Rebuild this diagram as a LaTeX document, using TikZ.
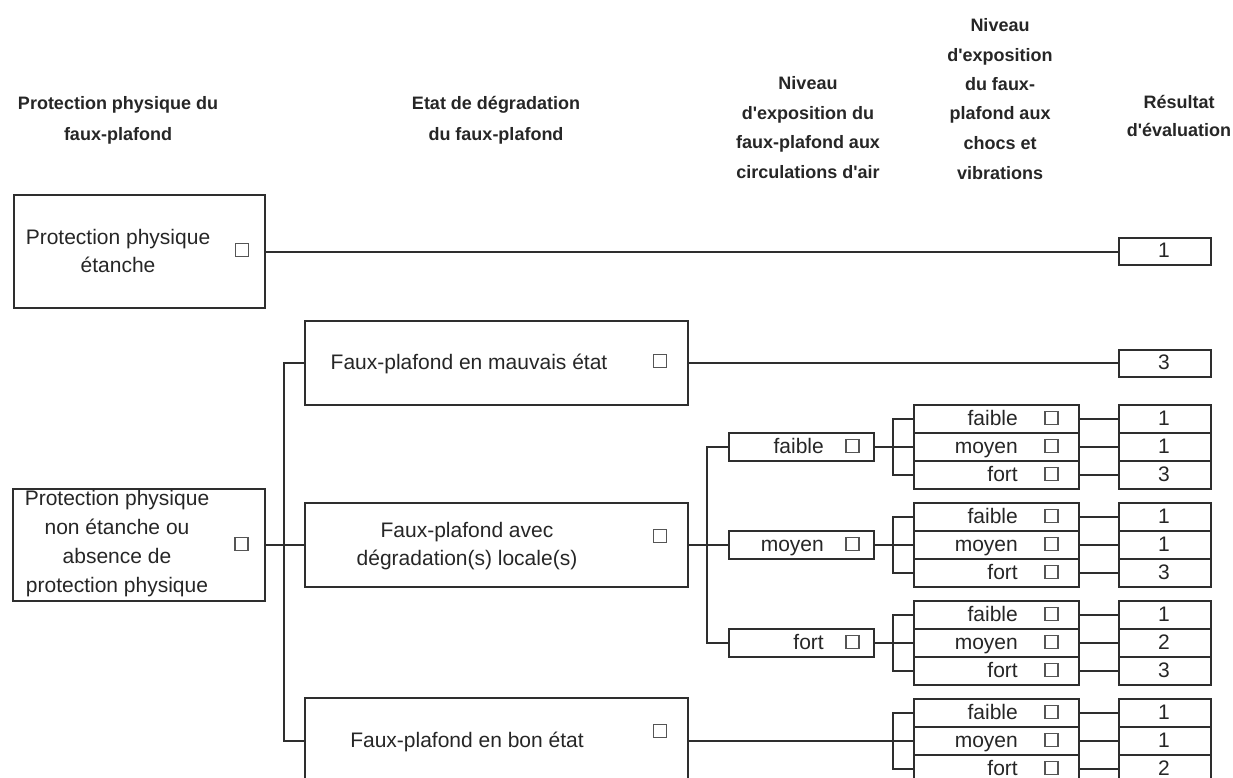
\documentclass[tikz,border=0pt]{standalone}
\usepackage{fontspec}
\setmainfont{Liberation Sans}
\definecolor{ln}{HTML}{2E2E2E}
\definecolor{ck}{HTML}{555555}
\begin{document}
\begin{tikzpicture}[x=1pt,y=-1pt,
  box/.style={draw=ln, line width=2.4pt, anchor=north west, inner sep=0pt},
  chk/.style={draw=ck, line width=1.4pt, minimum size=13pt, inner sep=0pt},
  txt/.style={inner sep=0pt, text=black!85, font=\fontsize{21}{28}\selectfont, align=center, anchor=base},
  hdr/.style={inner sep=0pt, text=black!85, font=\fontsize{18}{29.5}\selectfont\bfseries, align=center, anchor=base},
  conn/.style={draw=ln, line width=2.4pt}]
\useasboundingbox (0,0) rectangle (1233,778);
\clip (0,0) rectangle (1233,778);

% headers (anchor = baseline of the last line)
\node[hdr, font=\fontsize{18}{31}\selectfont\bfseries] (h1) at (118,141) {Protection physique du\\faux-plafond};
\node[hdr, font=\fontsize{18}{31}\selectfont\bfseries] (h2) at (496,141) {Etat de dégradation\\du faux-plafond};
\node[hdr] (h3) at (808,178.5) {Niveau\\d\textquotesingle exposition du\\faux-plafond aux\\circulations d\textquotesingle air};
\node[hdr] (h4) at (1000,179) {Niveau\\d\textquotesingle exposition\\du faux-\\plafond aux\\chocs et\\vibrations};
\node[hdr, font=\fontsize{18}{28}\selectfont\bfseries] (h5) at (1179,137) {Résultat\\d\textquotesingle évaluation};

% column 1
\node[box, minimum width=251pt, minimum height=113pt] (A) at (13,194) {};
\node[txt] (tA) at (118,272) {Protection physique\\étanche};
\node[chk] (cA) at (242,250) {};
\node[box, minimum width=252pt, minimum height=112pt] (B) at (12,488) {};
\node[txt, font=\fontsize{21}{29}\selectfont] (tB) at (117,592) {Protection physique\\non étanche ou\\absence de\\protection physique};
\node[chk] (cB) at (241.5,544) {};

% column 2
\node[box, minimum width=383pt, minimum height=84pt] (M) at (304,320) {};
\node[txt] (tM) at (469,369) {Faux-plafond en mauvais état};
\node[chk] (cM) at (660,361) {};
\node[box, minimum width=383pt, minimum height=84pt] (C) at (304,502) {};
\node[txt] (tC) at (467,565) {Faux-plafond avec\\dégradation(s) locale(s)};
\node[chk] (cC) at (660,536) {};
\node[box, minimum width=383pt, minimum height=86pt] (D) at (304,697) {};
\node[txt] (tD) at (467,747) {Faux-plafond en bon état};
\node[chk] (cD) at (660,731) {};

% results for direct branches
\node[box, minimum width=92pt, minimum height=27pt] (R1) at (1118,237) {};
\node[txt] (nR1) at (1164,257.5) {1};
\node[box, minimum width=92pt, minimum height=27pt] (R3) at (1118,348.5) {};
\node[txt] (nR3) at (1164,369) {3};

% column 3
\foreach \i/\c/\lab in {1/446/faible, 2/544/moyen, 3/642/fort}{
  \node[box, minimum width=145pt, minimum height=28pt] (m\i) at (728,{\c-14}) {};
  \node[txt, anchor=base east] (tm\i) at (824,{\c+7}) {\lab};
  \node[chk] (cm\i) at (852.5,\c) {};
}

% columns 4 and 5
\foreach \g/\c/\va/\vb/\vc in {1/446/1/1/3, 2/544/1/1/3, 3/642/1/2/3, 4/740/1/1/2}{
  \foreach \r/\dy/\lab/\v in {a/-28/faible/\va, b/0/moyen/\vb, c/28/fort/\vc}{
    \node[box, minimum width=165pt, minimum height=28pt] (s\g-\r) at (913,{\c+\dy-14}) {};
    \node[txt, anchor=base east] (ts\g-\r) at (1018,{\c+\dy+7}) {\lab};
    \node[chk] (cs\g-\r) at (1051.5,{\c+\dy}) {};
    \node[box, minimum width=92pt, minimum height=28pt] (r\g-\r) at (1118,{\c+\dy-14}) {};
    \node[txt] (nr\g-\r) at (1164,{\c+\dy+7}) {\v};
    \draw[conn] (s\g-\r.east) -- (r\g-\r.west);
  }
  \draw[conn] (s\g-a.west) -- ++(-20,0) |- (s\g-c.west);
}

% connectors
\draw[conn] (A.east) -- (R1.west);
\draw[conn] (M.east) -- (R3.west);
\draw[conn] (B.east) -- (C.west);
\draw[conn] (M.west) -- ++(-20,0) |- (D.west);
\draw[conn] (C.east) -- (m2.west);
\draw[conn] (m1.west) -- ++(-21,0) |- (m3.west);
\draw[conn] (m1.east) -- (s1-b.west);
\draw[conn] (m2.east) -- (s2-b.west);
\draw[conn] (m3.east) -- (s3-b.west);
\draw[conn] (D.east) -- (s4-b.west);
\end{tikzpicture}
\end{document}
